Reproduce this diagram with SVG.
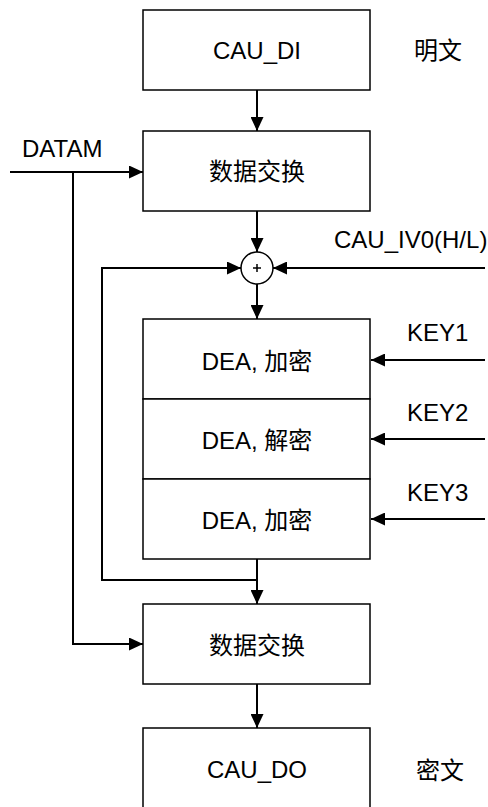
<svg xmlns="http://www.w3.org/2000/svg" width="488" height="807" viewBox="0 0 488 807">
<style>
.box{fill:#fff;stroke:#000;stroke-width:1.5}
.t{font-family:"Liberation Sans","Noto Sans CJK SC",sans-serif;font-size:24px;fill:#000;text-anchor:middle;dominant-baseline:central}
.tl{font-family:"Liberation Sans","Noto Sans CJK SC",sans-serif;font-size:24px;fill:#000}
.ln{fill:none;stroke:#000;stroke-width:2}
</style>
<defs>
<marker id="ah" viewBox="0 0 14 13" refX="14" refY="6.5" markerWidth="14" markerHeight="13" markerUnits="userSpaceOnUse" orient="auto">
<path d="M0,0 L14,6.5 L0,13 Z" fill="#000"/>
</marker>
</defs>
<rect width="488" height="807" fill="#fff"/>
<g id="connectors">
<path class="ln" d="M257,90 V131" marker-end="url(#ah)"/>
<path class="ln" d="M10,172 H143" marker-end="url(#ah)"/>
<path class="ln" d="M73,172 V644 H143" marker-end="url(#ah)"/>
<path class="ln" d="M257,211 V252" marker-end="url(#ah)"/>
<path class="ln" d="M485,268 H273" marker-end="url(#ah)"/>
<path class="ln" d="M257,580 H102 V268 H241" marker-end="url(#ah)"/>
<path class="ln" d="M257,284 V319" marker-end="url(#ah)"/>
<path class="ln" d="M485,360 H371" marker-end="url(#ah)"/>
<path class="ln" d="M485,439 H371" marker-end="url(#ah)"/>
<path class="ln" d="M485,519 H371" marker-end="url(#ah)"/>
<path class="ln" d="M257,559 V604" marker-end="url(#ah)"/>
<path class="ln" d="M257,684 V728" marker-end="url(#ah)"/>
</g>
<g id="cau_di"><rect class="box" x="143" y="10" width="227" height="80"/><text class="t" x="257" y="50">CAU_DI</text></g>
<g id="swap1"><rect class="box" x="143" y="131" width="227" height="80"/><text class="t" x="257" y="171">数据交换</text></g>
<g id="xor"><circle cx="257" cy="268" r="16" fill="#fff" stroke="#000" stroke-width="1.5"/><path d="M253,268 H261 M257,264 V272" stroke="#000" stroke-width="1.5"/></g>
<g id="dea1"><rect class="box" x="143" y="319" width="227" height="80"/><text class="t" x="257" y="361">DEA, 加密</text></g>
<g id="dea2"><rect class="box" x="143" y="399" width="227" height="80"/><text class="t" x="257" y="440">DEA, 解密</text></g>
<g id="dea3"><rect class="box" x="143" y="479" width="227" height="80"/><text class="t" x="257" y="520">DEA, 加密</text></g>
<g id="swap2"><rect class="box" x="143" y="604" width="227" height="80"/><text class="t" x="257" y="645">数据交换</text></g>
<g id="cau_do"><rect class="box" x="143" y="728" width="227" height="82"/><text class="t" x="257" y="769">CAU_DO</text></g>
<g id="labels">
<text class="t" x="438" y="50">明文</text>
<text class="t" x="440" y="770">密文</text>
<text class="tl" x="22" y="157">DATAM</text>
<text class="tl" x="334" y="248">CAU_IV0(H/L)</text>
<text class="tl" x="407" y="341">KEY1</text>
<text class="tl" x="407" y="421">KEY2</text>
<text class="tl" x="407" y="501">KEY3</text>
</g>
</svg>
